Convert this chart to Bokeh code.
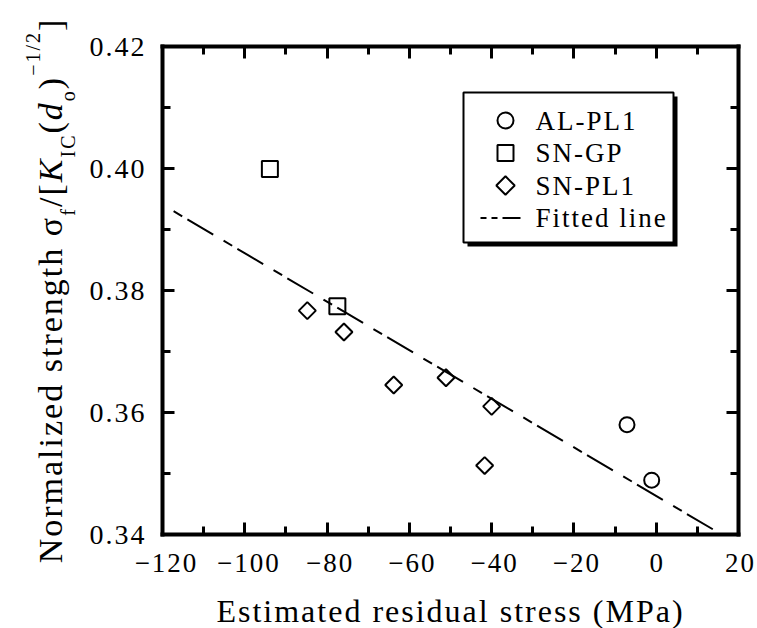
import math
from bokeh.plotting import figure
from bokeh.models import Range1d, LinearAxis, FixedTicker, Label
from bokeh.core.properties import value
from bokeh.embed import file_html
from bokeh.resources import INLINE

# ---------------- data ----------------
al_x = [-7.1, -1.1]
al_y = [0.3580, 0.3489]
gp_x = [-93.9, -77.5]
gp_y = [0.3999, 0.3774]
pl_x = [-84.8, -75.9, -63.8, -51.1, -40.0, -41.7]
pl_y = [0.3767, 0.3732, 0.3645, 0.3657, 0.3610, 0.3513]
fit_x = [-117.3, 13.9]
fit_y = [0.3930, 0.3408]

x_ticks = [-120, -100, -80, -60, -40, -20, 0, 20]
x_tick_labels = ["\u2212120", "\u2212100", "\u221280", "\u221260", "\u221240", "\u221220", "0", "20"]
x_minor = [-110, -90, -70, -50, -30, -10, 10]
y_ticks = [0.34, 0.36, 0.38, 0.40, 0.42]
y_tick_labels = ["0.34", "0.36", "0.38", "0.40", "0.42"]
y_minor = [0.35, 0.37, 0.39, 0.41]

series_labels = ["AL-PL1", "SN-GP", "SN-PL1", "Fitted line"]
x_title = "Estimated residual stress (MPa)"

# ---------------- layout ----------------
FONT = "Liberation Serif"
LS = 2                                     # letter spacing (px), as in the reference
W, H = 757, 628
PL, PR, PT, PB = 162, 738, 46, 534        # plot box in canvas pixels
X0, X1 = -120, 20
Y0, Y1 = 0.34, 0.42
KX = (X1 - X0) / (PR - PL)
KY = (Y1 - Y0) / (PB - PT)

p = figure(width=W, height=H,
           x_range=Range1d(X0 - PL * KX, X1 + (W - PR) * KX),
           y_range=Range1d(Y0 - (H - PB) * KY, Y1 + PT * KY),
           output_backend="svg", toolbar_location=None,
           x_axis_type=None, y_axis_type=None, min_border=0)
p.styles = {"letter-spacing": f"{LS}px"}
p.outline_line_color = None
p.xgrid.visible = False
p.ygrid.visible = False
p.background_fill_color = "white"
p.border_fill_color = "white"


def dx(px):   # pixel offset from plot left -> data x
    return X0 + px * KX


def dy(py):   # pixel offset above plot bottom -> data y
    return Y0 + py * KY


def style_axis(ax, show, size="28px"):
    ax.axis_line_width = 4
    ax.axis_line_color = "black"
    ax.axis_line_cap = "square"
    ax.major_tick_in = 12
    ax.major_tick_out = 0
    ax.minor_tick_in = 8
    ax.minor_tick_out = 0
    ax.major_tick_line_width = 3
    ax.minor_tick_line_width = 3
    ax.major_label_text_font = FONT
    ax.major_label_text_font_size = size
    ax.major_label_text_color = "black"
    if not show:
        ax.major_label_text_color = None
        ax.major_label_text_font_size = "1px"
        ax.major_label_standoff = 0


xt = FixedTicker(ticks=x_ticks, minor_ticks=x_minor)
yt = FixedTicker(ticks=y_ticks, minor_ticks=y_minor)
x_over = dict(zip(x_ticks, x_tick_labels))
y_over = dict(zip(y_ticks, y_tick_labels))

xb = LinearAxis(ticker=xt, major_label_overrides=x_over, fixed_location=Y0, bounds=(X0, X1))
style_axis(xb, True, "27px")
xb.major_label_standoff = 19
p.add_layout(xb, "below")

xa = LinearAxis(ticker=xt, major_label_overrides=x_over, fixed_location=Y1, bounds=(X0, X1))
style_axis(xa, False)
p.add_layout(xa, "above")

yl = LinearAxis(ticker=yt, major_label_overrides=y_over, fixed_location=X0, bounds=(Y0, Y1))
style_axis(yl, True)
yl.major_label_standoff = 24
p.add_layout(yl, "left")

yr = LinearAxis(ticker=yt, major_label_overrides=y_over, fixed_location=X1, bounds=(Y0, Y1))
style_axis(yr, False)
p.add_layout(yr, "right")

# ---------------- data marks ----------------
DASH = "10 6 30 12"
p.line(fit_x, fit_y, line_color="black", line_width=2, line_dash=DASH)
p.scatter(al_x, al_y, marker="circle", size=15, fill_color=None,
          line_color="black", line_width=2)
p.scatter(gp_x, gp_y, marker="square", size=16, fill_color=None,
          line_color="black", line_width=2)
p.scatter(pl_x, pl_y, marker="square", angle=math.pi / 4, size=12,
          fill_color=None, line_color="black", line_width=2)

# ---------------- legend (box with drop shadow) ----------------
LB_L, LB_R, LB_T, LB_B = 301, 511, 442, 292   # px from plot left / plot bottom
SH = 4
p.quad(left=[dx(LB_L + SH)], right=[dx(LB_R + SH)], top=[dy(LB_T - SH)],
       bottom=[dy(LB_B - SH)], fill_color="black", line_color=None)
p.quad(left=[dx(LB_L)], right=[dx(LB_R)], top=[dy(LB_T)], bottom=[dy(LB_B)],
       fill_color="white", line_color="black", line_width=2)

rows = [414, 381.5, 349, 316.5]
MK_X, TX_X = 343, 373
p.scatter([dx(MK_X)], [dy(rows[0])], marker="circle", size=16, fill_color=None,
          line_color="black", line_width=2)
p.scatter([dx(MK_X)], [dy(rows[1])], marker="square", size=16, fill_color=None,
          line_color="black", line_width=2)
p.scatter([dx(MK_X)], [dy(rows[2])], marker="square", angle=math.pi / 4, size=13,
          fill_color=None, line_color="black", line_width=2)
p.line([dx(318), dx(358)], [dy(rows[3]), dy(rows[3])], line_color="black",
       line_width=2, line_dash="6 5 6 5 30 5")
p.text(x=[dx(TX_X)] * 4, y=[dy(r) for r in rows], text=series_labels,
       text_font=value(FONT), text_font_size="27px", text_align="left",
       text_baseline="middle", text_color="black")

# ---------------- axis titles ----------------
p.add_layout(Label(x=(X0 + X1) / 2, y=Y0, x_offset=-len(x_title) * LS / 2,
                   y_offset=-76, text=x_title, text_font=FONT,
                   text_font_size="32px", text_align="center",
                   text_baseline="middle", text_color="black"))

MAIN, SUB = 34, 20
pieces = [  # text, size, style, kind, approx width in em
    ("Normalized strength \u03c3", MAIN, "normal", "main", 8.99),
    ("f", SUB, "normal", "sub", 0.333),
    ("/[", MAIN, "normal", "main", 0.611),
    ("K", MAIN, "italic", "main", 0.667),
    ("IC", SUB, "normal", "sub", 1.0),
    ("(", MAIN, "normal", "main", 0.333),
    ("d", MAIN, "italic", "main", 0.5),
    ("o", SUB, "normal", "sub", 0.5),
    (")", MAIN, "normal", "main", 0.333),
    ("\u22121/2", SUB, "normal", "sup", 1.842),
    ("]", MAIN, "normal", "main", 0.333),
]
base_x = {"main": -112, "sub": -95, "sup": -130}


def piece_len(txt, sz, em):
    return sz * em + LS * len(txt)


total = sum(piece_len(t, sz, em) for t, sz, _, _, em in pieces)
pos = (PB - PT) / 2 - total / 2
for txt, sz, st, kind, em in pieces:
    p.add_layout(Label(x=X0, y=Y0, x_offset=base_x[kind], y_offset=pos,
                       angle=math.pi / 2, text=txt, text_font=FONT,
                       text_font_size=f"{sz}px", text_font_style=st,
                       text_align="left", text_baseline="alphabetic",
                       text_color="black"))
    pos += piece_len(txt, sz, em)

open("out.html", "w").write(file_html(p, INLINE))
